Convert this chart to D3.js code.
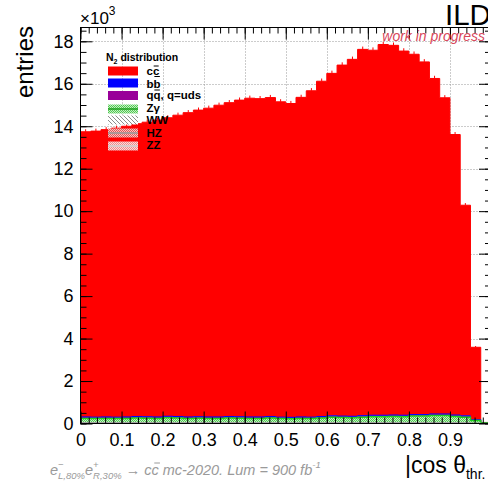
<!DOCTYPE html>
<html><head><meta charset="utf-8">
<script src="https://cdn.jsdelivr.net/npm/d3@7"></script>
<style>
html,body{margin:0;padding:0;background:#fff;overflow:hidden}
svg{display:block;font-family:"Liberation Sans",Arial,Helvetica,sans-serif}
</style></head><body>
<svg id="c" width="488" height="489"></svg>
<script>
// |cos theta_thr| distribution, 40 bins on [0,1]; entries in units of 10^3
const nBins = 40;
const ccbar  = [13.43,13.47,13.53,13.61,13.69,13.79,13.87,13.98,14.06,14.19,
                14.33,14.44,14.54,14.68,14.78,14.91,15.01,14.99,15.02,14.85,
                14.78,15.05,15.37,15.79,16.13,16.53,16.81,17.25,17.19,17.46,
                17.41,17.15,16.97,16.61,15.80,14.89,13.21,9.92,3.41,0.03];
const bbbar  = [0.05,0.05,0.05,0.05,0.05,0.05,0.05,0.05,0.05,0.05,
                0.05,0.05,0.05,0.05,0.05,0.05,0.05,0.05,0.05,0.05,
                0.05,0.05,0.05,0.05,0.05,0.05,0.05,0.05,0.05,0.05,
                0.05,0.05,0.05,0.05,0.05,0.05,0.05,0.05,0.03,0.00];
const udsbar = [0.02,0.02,0.02,0.02,0.02,0.02,0.02,0.02,0.02,0.02,
                0.02,0.02,0.02,0.02,0.02,0.02,0.02,0.02,0.02,0.02,
                0.02,0.02,0.02,0.02,0.02,0.02,0.02,0.02,0.02,0.02,
                0.02,0.02,0.02,0.02,0.02,0.02,0.02,0.02,0.01,0.00];
const zgamma = [0.20,0.19,0.20,0.19,0.20,0.22,0.21,0.20,0.23,0.22,
                0.20,0.21,0.20,0.20,0.22,0.21,0.20,0.20,0.22,0.19,
                0.18,0.20,0.19,0.22,0.25,0.24,0.23,0.26,0.28,0.28,
                0.29,0.28,0.31,0.31,0.34,0.34,0.29,0.25,0.12,0.02];
const ww     = [0.02,0.02,0.02,0.02,0.02,0.02,0.02,0.02,0.02,0.02,
                0.02,0.02,0.02,0.02,0.02,0.02,0.02,0.02,0.02,0.02,
                0.02,0.02,0.02,0.02,0.02,0.02,0.02,0.02,0.02,0.02,
                0.02,0.02,0.02,0.02,0.02,0.02,0.02,0.02,0.01,0.00];
const hz     = [0.01,0.01,0.01,0.01,0.01,0.01,0.01,0.01,0.01,0.01,
                0.01,0.01,0.01,0.01,0.01,0.01,0.01,0.01,0.01,0.01,
                0.01,0.01,0.01,0.01,0.01,0.01,0.01,0.01,0.01,0.01,
                0.01,0.01,0.01,0.01,0.01,0.01,0.01,0.01,0.005,0.00];
const zz     = [0.01,0.01,0.01,0.01,0.01,0.01,0.01,0.01,0.01,0.01,
                0.01,0.01,0.01,0.01,0.01,0.01,0.01,0.01,0.01,0.01,
                0.01,0.01,0.01,0.01,0.01,0.01,0.01,0.01,0.01,0.01,
                0.01,0.01,0.01,0.01,0.01,0.01,0.01,0.01,0.005,0.00];
const xTickValues = [0,0.1,0.2,0.3,0.4,0.5,0.6,0.7,0.8,0.9];
const xTickLabels = ["0","0.1","0.2","0.3","0.4","0.5","0.6","0.7","0.8","0.9"];
const yTickValues = [0,2,4,6,8,10,12,14,16,18];
const yTickLabels = ["0","2","4","6","8","10","12","14","16","18"];

const svg = d3.select("#c");
const L = 80.5, R = 491, T = 27.5, B = 423.5;
const x = d3.scaleLinear().domain([0, 1]).range([L, R]);
const y = d3.scaleLinear().domain([0, 18.65]).range([B, T]);
const bw = 1 / nBins;

// ---------- patterns ----------
const defs = svg.append("defs");
function dotPattern(id, bg, fg) {
  const p = defs.append("pattern").attr("id", id).attr("patternUnits", "userSpaceOnUse")
    .attr("width", 2).attr("height", 2);
  p.append("rect").attr("width", 2).attr("height", 2).attr("fill", bg);
  p.append("rect").attr("width", 1).attr("height", 1).attr("fill", fg);
  p.append("rect").attr("x", 1).attr("y", 1).attr("width", 1).attr("height", 1).attr("fill", fg);
}
dotPattern("pZg", "#c4f0c4", "#52c852");
dotPattern("pHZ", "#f6c4c4", "#e05a5a");
dotPattern("pZZ", "#fadada", "#ee8a8a");
const hw = defs.append("pattern").attr("id", "pWW").attr("patternUnits", "userSpaceOnUse")
  .attr("width", 4).attr("height", 4);
hw.append("rect").attr("width", 4).attr("height", 4).attr("fill", "#fff");
hw.append("path").attr("d", "M-1,-1L5,5M-1,3L1,5M3,-1L5,1").attr("stroke", "#8c8c8c").attr("stroke-width", 1);
defs.append("clipPath").attr("id", "plotClip").append("rect")
  .attr("x", L).attr("y", T).attr("width", R - L).attr("height", B - T);

// ---------- grid ----------
const grid = svg.append("g").attr("stroke", "#999").attr("stroke-dasharray", "1,2").attr("stroke-width", 1);
xTickValues.filter(v => v > 0).forEach(v => grid.append("line")
  .attr("x1", Math.round(x(v)) + 0.5).attr("x2", Math.round(x(v)) + 0.5).attr("y1", T).attr("y2", B));
yTickValues.filter(v => v > 0).forEach(v => grid.append("line")
  .attr("x1", L).attr("x2", R).attr("y1", Math.round(y(v)) + 0.5).attr("y2", Math.round(y(v)) + 0.5));

// ---------- stacked histogram ----------
const series = [
  {key: "ZZ",  vals: zz,     fill: "url(#pZZ)", line: "#cfcfcf"},
  {key: "HZ",  vals: hz,     fill: "url(#pHZ)", line: "#9a9a9a"},
  {key: "WW",  vals: ww,     fill: "url(#pWW)", line: "#8c8c8c"},
  {key: "Zg",  vals: zgamma, fill: "url(#pZg)", line: "#1ccf1c"},
  {key: "uds", vals: udsbar, fill: "#990099",   line: "#990099"},
  {key: "bb",  vals: bbbar,  fill: "#0000ff",   line: "#0000ff"},
  {key: "cc",  vals: ccbar,  fill: "#ff0000",   line: "#ff0000"}
];
const rows = d3.range(nBins).map(i => {
  const r = {};
  series.forEach(s => r[s.key] = s.vals[i]);
  return r;
});
const stacked = d3.stack().keys(series.map(s => s.key))(rows);
const area = d3.area().x(d => x(d.x)).y0(d => y(d.y0)).y1(d => y(d.y1)).curve(d3.curveStepAfter);
const topLine = d3.line().x(d => x(d.x)).y(d => y(d.y1)).curve(d3.curveStepAfter);
const hist = svg.append("g").attr("clip-path", "url(#plotClip)");
stacked.slice().reverse().forEach(layer => {
  const s = series.find(q => q.key === layer.key);
  const pts = layer.map((d, i) => ({x: i * bw, y0: d[0], y1: d[1]}));
  const last = layer[nBins - 1];
  pts.push({x: 1, y0: last[0], y1: last[1]});
  hist.append("path").attr("d", area(pts)).attr("fill", s.fill).attr("stroke", "none");
  hist.append("path").attr("d", topLine(pts)).attr("fill", "none")
    .attr("stroke", s.line).attr("stroke-width", s.key === "Zg" ? 1.5 : 1);
});
// statistical error marks on top of the full stack (sqrt of the entries)
const topLayer = stacked[stacked.length - 1];
hist.selectAll("line.err").data(topLayer.map((d, i) => ({i, v: d[1]})).filter(d => d.v > 1))
  .join("line").attr("class", "err")
  .attr("x1", d => x((d.i + 0.5) * bw)).attr("x2", d => x((d.i + 0.5) * bw))
  .attr("y1", d => y(d.v)).attr("y2", d => y(d.v + Math.sqrt(d.v * 1000) / 1000))
  .attr("stroke", "#ff0000").attr("stroke-width", 1);

// ---------- axes (ticks inside, on all four sides) ----------
const xMinor = d3.range(0, 1.0001, 0.02);
const yMinor = d3.range(0, 18.51, 0.5);
function styleAxis(g) { g.select(".domain").remove(); g.selectAll("line").attr("stroke", "#000"); }
svg.append("g").attr("transform", `translate(0,${B})`)
  .call(d3.axisBottom(x).tickValues(xMinor).tickSize(-6).tickFormat("")).call(styleAxis);
svg.append("g").attr("transform", `translate(0,${B})`)
  .call(d3.axisBottom(x).tickValues(xTickValues).tickSize(-12).tickPadding(10)
    .tickFormat((d, i) => xTickLabels[i])).call(styleAxis)
  .selectAll("text").attr("font-size", 18).attr("fill", "#000").attr("font-family", "Liberation Sans, Arial, sans-serif");
svg.append("g").attr("transform", `translate(0,${T})`)
  .call(d3.axisTop(x).tickValues(xMinor).tickSize(-6).tickFormat("")).call(styleAxis);
svg.append("g").attr("transform", `translate(0,${T})`)
  .call(d3.axisTop(x).tickValues(xTickValues.concat([1])).tickSize(-12).tickFormat("")).call(styleAxis);
svg.append("g").attr("transform", `translate(${L},0)`)
  .call(d3.axisLeft(y).tickValues(yMinor).tickSize(-6).tickFormat("")).call(styleAxis);
svg.append("g").attr("transform", `translate(${L},0)`)
  .call(d3.axisLeft(y).tickValues(yTickValues).tickSize(-12).tickPadding(7)
    .tickFormat((d, i) => yTickLabels[i])).call(styleAxis)
  .selectAll("text").attr("font-size", 18).attr("fill", "#000").attr("font-family", "Liberation Sans, Arial, sans-serif");
svg.append("g").attr("transform", `translate(${R},0)`)
  .call(d3.axisRight(y).tickValues(yMinor).tickSize(-6).tickFormat("")).call(styleAxis);
svg.append("g").attr("transform", `translate(${R},0)`)
  .call(d3.axisRight(y).tickValues(yTickValues).tickSize(-12).tickFormat("")).call(styleAxis);
svg.append("rect").attr("x", L).attr("y", T).attr("width", R - L).attr("height", B - T)
  .attr("fill", "none").attr("stroke", "#000").attr("stroke-width", 1);

// ---------- rich text helper: one text element, tspans for sub/superscripts ----------
// piece: {t, size, dy (offset from baseline), hold (next piece starts at same x), bar (overline height)}
function rich(g, x0, y0, pieces, base) {
  const t = g.append("text").attr("x", x0).attr("y", y0)
    .attr("font-size", base.size).attr("fill", base.fill)
    .attr("font-style", base.italic ? "italic" : null)
    .attr("font-weight", base.bold ? "bold" : null)
    .style("white-space", "pre");
  let curDy = 0, held = null, idx = 0;
  const bars = [];
  pieces.forEach(p => {
    const target = p.dy || 0;
    const ts = t.append("tspan").attr("font-size", p.size || base.size).attr("dy", target - curDy).text(p.t);
    curDy = target;
    if (held !== null) ts.attr("dx", -held);
    held = null;
    if (p.bar) bars.push({i: idx, n: p.t.length, h: p.bar});
    if (p.hold) held = t.node().getSubStringLength(idx, p.t.length);
    idx += p.t.length;
  });
  const node = t.node();
  bars.forEach(b => {
    const sx = node.getStartPositionOfChar(b.i).x;
    const w = node.getSubStringLength(b.i, b.n);
    const off = base.italic ? 2 : 0;
    g.append("line").attr("x1", sx + w * 0.12 + off).attr("x2", sx + w * 0.9 + off)
      .attr("y1", y0 - b.h).attr("y2", y0 - b.h).attr("stroke", base.fill).attr("stroke-width", 1);
  });
  return t;
}

// ---------- titles ----------
svg.append("text").attr("transform", "translate(33,26) rotate(-90)").attr("text-anchor", "end")
  .attr("font-size", 24).attr("fill", "#000").text("entries");
rich(svg.append("g"), 80, 24, [{t: "×10"}, {t: "3", size: 12, dy: -9}], {size: 17, fill: "#000"});
svg.append("text").attr("x", 445).attr("y", 24.5).attr("font-size", 29.5).attr("fill", "#000").text("ILD");
svg.append("text").attr("x", 485).attr("y", 40.5).attr("text-anchor", "end").attr("font-size", 14)
  .attr("font-style", "italic").attr("fill", "#d8465a").text("work in progress");
rich(svg.append("g"), 405, 473, [{t: "|cos θ"}, {t: "thr.", size: 14, dy: 6}], {size: 23, fill: "#000"});
rich(svg.append("g"), 50, 475, [
  {t: "e"}, {t: "−", size: 9.5, dy: -7, hold: true}, {t: "L,80%", size: 9.5, dy: 4},
  {t: "e"}, {t: "+", size: 9.5, dy: -7, hold: true}, {t: "R,30%", size: 9.5, dy: 4},
  {t: " → "}, {t: "c"}, {t: "c", bar: 12}, {t: " mc-2020. Lum = 900 fb"}, {t: "-1", size: 9.5, dy: -7}
], {size: 14.5, fill: "#9a9a9a", italic: true});

// ---------- legend ----------
const lg = svg.append("g");
rich(lg, 106, 61, [{t: "N"}, {t: "2", size: 7, dy: 2.5}, {t: " distribution", dy: 0}], {size: 10.5, fill: "#000", bold: true});
const legendItems = [
  {fill: "#ff0000", y: 66.5, ty: 75, label: [{t: "c"}, {t: "c", bar: 9}]},
  {fill: "#0000ff", y: 78.5, ty: 87.5, label: [{t: "b"}, {t: "b", bar: 11}]},
  {fill: "#990099", y: 91, ty: 99, label: [{t: "q"}, {t: "q", bar: 9}, {t: ", q=uds"}]},
  {fill: "url(#pZg)", y: 104.5, ty: 111.5, line: "#1ca01c", label: [{t: "Zγ"}]},
  {fill: "url(#pWW)", y: 115.5, ty: 123.5, label: [{t: "WW"}]},
  {fill: "url(#pHZ)", y: 128.5, ty: 136.5, line: "#9a9a9a", label: [{t: "HZ"}]},
  {fill: "url(#pZZ)", y: 141.5, ty: 149, line: "#d0d0d0", label: [{t: "ZZ"}]}
];
legendItems.forEach(it => {
  lg.append("rect").attr("x", 108).attr("y", it.y).attr("width", 30).attr("height", 9).attr("fill", it.fill);
  if (it.line) lg.append("line").attr("x1", 108).attr("x2", 138).attr("y1", it.y + 4.5).attr("y2", it.y + 4.5)
    .attr("stroke", it.line).attr("stroke-width", 1.5);
  rich(lg, 146.5, it.ty, it.label, {size: 11.5, fill: "#000", bold: true});
});
</script></body></html>
